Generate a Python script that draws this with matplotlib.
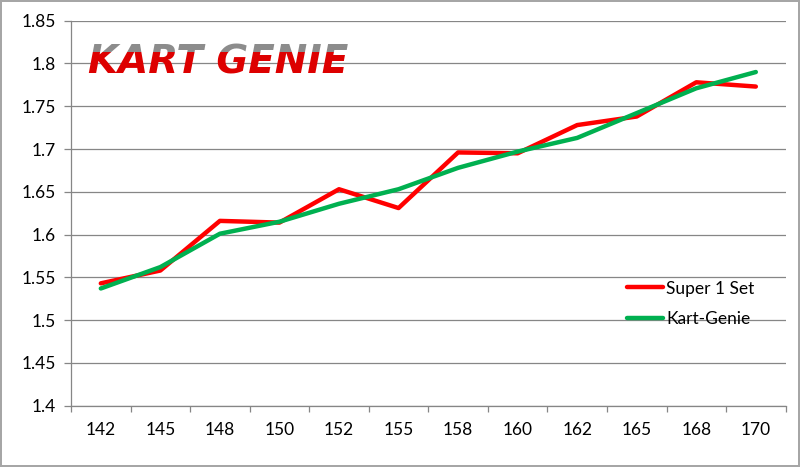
import matplotlib
matplotlib.use('Agg')
import matplotlib.pyplot as plt
import numpy as np
from matplotlib.transforms import Bbox, TransformedBbox

categories = ['142', '145', '148', '150', '152', '155', '158', '160', '162', '165', '168', '170']
super1 = [1.543, 1.558, 1.616, 1.614, 1.653, 1.631, 1.696, 1.695, 1.728, 1.738, 1.778, 1.773]
kartgenie = [1.537, 1.562, 1.601, 1.615, 1.636, 1.653, 1.678, 1.697, 1.713, 1.742, 1.771, 1.790]

plt.rcParams['font.family'] = ['Lato', 'DejaVu Sans']

fig = plt.figure(figsize=(8, 4.67), dpi=100)
fig.patch.set_edgecolor('#A6A6A6')
fig.patch.set_linewidth(1.5)
ax = fig.add_axes([0.0888, 0.1313, 0.8932, 0.8244])

x = np.arange(len(categories))
ax.plot(x, super1, color='#FF0000', lw=3.2, label='Super 1 Set', solid_capstyle='round')
ax.plot(x, kartgenie, color='#00B050', lw=3.2, label='Kart-Genie', solid_capstyle='round')

ax.set_xlim(-0.5, len(categories) - 0.5)
ax.set_ylim(1.4, 1.85)
ax.set_yticks(np.arange(1.4, 1.851, 0.05))
ax.set_yticklabels(['1.4', '1.45', '1.5', '1.55', '1.6', '1.65', '1.7', '1.75', '1.8', '1.85'])
ax.set_xticks(x)
ax.set_xticklabels(categories)
ax.set_xticks(np.arange(-0.5, len(categories)), minor=True)

ax.grid(axis='y', color='#868686', lw=0.9)
ax.set_axisbelow(True)
for s in ['top', 'right']:
    ax.spines[s].set_visible(False)
for s in ['left', 'bottom']:
    ax.spines[s].set_color('#868686')
    ax.spines[s].set_linewidth(0.9)

ax.tick_params(axis='y', length=5, color='#868686', width=0.9, pad=6, labelsize=12.5)
ax.tick_params(axis='x', which='major', length=0, pad=12, labelsize=12.5)
ax.tick_params(axis='x', which='minor', length=4.5, color='#868686', width=0.9)

leg = ax.legend(loc='upper left', bbox_to_anchor=(0.778, 0.325), frameon=False,
                fontsize=12.5, handlelength=2.1, handletextpad=0.15,
                labelspacing=0.85, borderpad=0, borderaxespad=0)

# logo: grey upper band, red lower band
bands = [('#8C8C8C', 0.919, 1.2), ('#DD0000', 0.80, 0.919)]
for col, y0, y1 in bands:
    t = ax.text(0.024, 0.864, 'KART GENIE', transform=ax.transAxes, fontsize=28,
                fontweight='bold', fontstyle='oblique', color=col,
                family='DejaVu Sans', ha='left', va='baseline')
    t.set_clip_box(TransformedBbox(Bbox([[0, y0], [1, y1]]), ax.transAxes))
    t.set_clip_on(True)

plt.savefig('out.png', dpi=100)
